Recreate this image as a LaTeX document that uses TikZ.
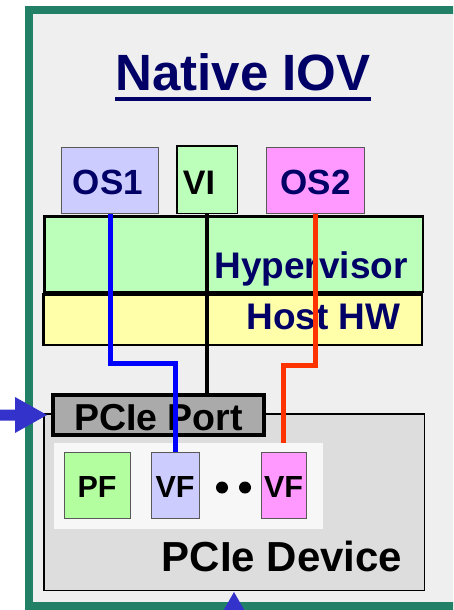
\documentclass[tikz,border=0pt]{standalone}
\usepackage{fontspec}
\setmainfont{Liberation Sans}
\definecolor{framegreen}{RGB}{33,128,102}
\definecolor{panelbg}{RGB}{239,239,239}
\definecolor{navytext}{RGB}{0,0,102}
\definecolor{osonefill}{RGB}{204,204,255}
\definecolor{ostwofill}{RGB}{255,153,255}
\definecolor{hypfill}{RGB}{187,255,187}
\definecolor{hostfill}{RGB}{255,255,170}
\definecolor{portfill}{RGB}{170,170,170}
\definecolor{devfill}{RGB}{221,221,221}
\definecolor{funcpanel}{RGB}{247,247,247}
\definecolor{pffill}{RGB}{179,255,159}
\definecolor{redline}{RGB}{255,51,0}
\definecolor{arrowblue}{RGB}{51,51,204}
\newcommand\boldsize[1]{\fontsize{#1}{#1}\selectfont\bfseries}
\begin{document}
\begin{tikzpicture}[x=1pt,y=-1pt,
  box/.style={rectangle, inner sep=0pt, outer sep=0pt},
  thinbox/.style={box, draw=black!65, line width=0.8pt},
  label/.style={anchor=base, inner sep=0pt, outer sep=0pt},
  navylabel/.style={label, text=navytext},
  dot/.style={circle, fill=black, minimum size=12pt, inner sep=0pt}]
\useasboundingbox (0,0) rectangle (453,610);
\clip (0,0) rectangle (453,610);
\fill[white] (0,0) rectangle (453,610);

% outer frame
\draw[line width=8pt, draw=framegreen, fill=panelbg] (29,10) rectangle (490,606);

% title
\node[navylabel, font=\boldsize{51}] (title) at (243,90) {Native IOV};
\draw[navytext, line width=4.5pt] ([yshift=-9pt]title.base west) -- ([yshift=-9pt]title.base east);

% guest operating systems and virtualization intermediary
\node[thinbox, fill=osonefill, minimum width=97pt, minimum height=66pt] (os1) at (110,180.5) {};
\node[box, draw=black, line width=1.5pt, fill=hypfill, minimum width=60.5pt, minimum height=67.5pt] (vi) at (207,179.5) {};
\node[thinbox, fill=ostwofill, minimum width=98pt, minimum height=66pt] (os2) at (315.5,180.5) {};
\node[navylabel, font=\boldsize{35}] (os1t) at (108,194) {OS1};
\node[label, font=\boldsize{34}] (vit) at (199,194) {VI};
\node[navylabel, font=\boldsize{35}] (os2t) at (315.5,194) {OS2};

% hypervisor and host hardware layers
\node[box, draw=black, line width=2.5pt, fill=hypfill, minimum width=378.5pt, minimum height=75.5pt] (hyp) at (233.5,254) {};
\node[box, draw=black, line width=2.5pt, fill=hostfill, minimum width=378.5pt, minimum height=50.5pt] (host) at (232.5,319.5) {};
\node[navylabel, font=\boldsize{37}] (hypt) at (311,278) {Hypervisor};
\node[navylabel, font=\boldsize{37}] (hostt) at (323.5,329) {Host HW};

% PCIe device with its functions
\node[box, draw=black, line width=1.5pt, fill=devfill, minimum width=380.5pt, minimum height=176.5pt] (dev) at (234,502) {};
\node[box, draw=black, line width=4pt, fill=portfill, minimum width=211pt, minimum height=40pt] (port) at (158.5,415) {};
\node[label, font=\boldsize{37.5}] (portt) at (158.5,430) {PCIe Port};
\node[box, fill=funcpanel, minimum width=269pt, minimum height=86pt] (panel) at (188.5,486) {};
\node[thinbox, fill=pffill, minimum width=66pt, minimum height=66pt] (pf) at (97,485) {};
\node[thinbox, fill=osonefill, minimum width=48pt, minimum height=66pt] (vf1) at (175,485) {};
\node[thinbox, fill=ostwofill, minimum width=45pt, minimum height=66pt] (vf2) at (283.5,485) {};
\node[label, font=\boldsize{30.5}] (pft) at (97,497) {PF};
\node[label, font=\boldsize{30.5}] (vf1t) at (175,497) {VF};
\node[label, font=\boldsize{30.5}] (vf2t) at (283.5,497) {VF};
\node[dot] (dota) at (222,487.5) {};
\node[dot] (dotb) at (245,487.5) {};
\node[label, font=\boldsize{42}] (devt) at (282,571) {PCIe Device};

% data paths
\draw[line width=4pt] (vi.south) -- (vi.south |- port.north);
\draw[blue, line width=5pt] (os1.south) -- ++(0,150) -| (vf1.north);
\draw[redline, line width=5pt] (os2.south) -- ++(0,152) -| (vf2.north |- panel.north);

% external arrows
\coordinate (leftin) at (47,415);
\fill[arrowblue] (0,409.5) -- (15,409.5) -- (15,397) -- (leftin) -- (15,433) -- (15,420.5) -- (0,420.5) -- cycle;
\coordinate (bottomin) at (234,592);
\fill[arrowblue] (bottomin) -- (250,620) -- (218,620) -- cycle;
\end{tikzpicture}
\end{document}
